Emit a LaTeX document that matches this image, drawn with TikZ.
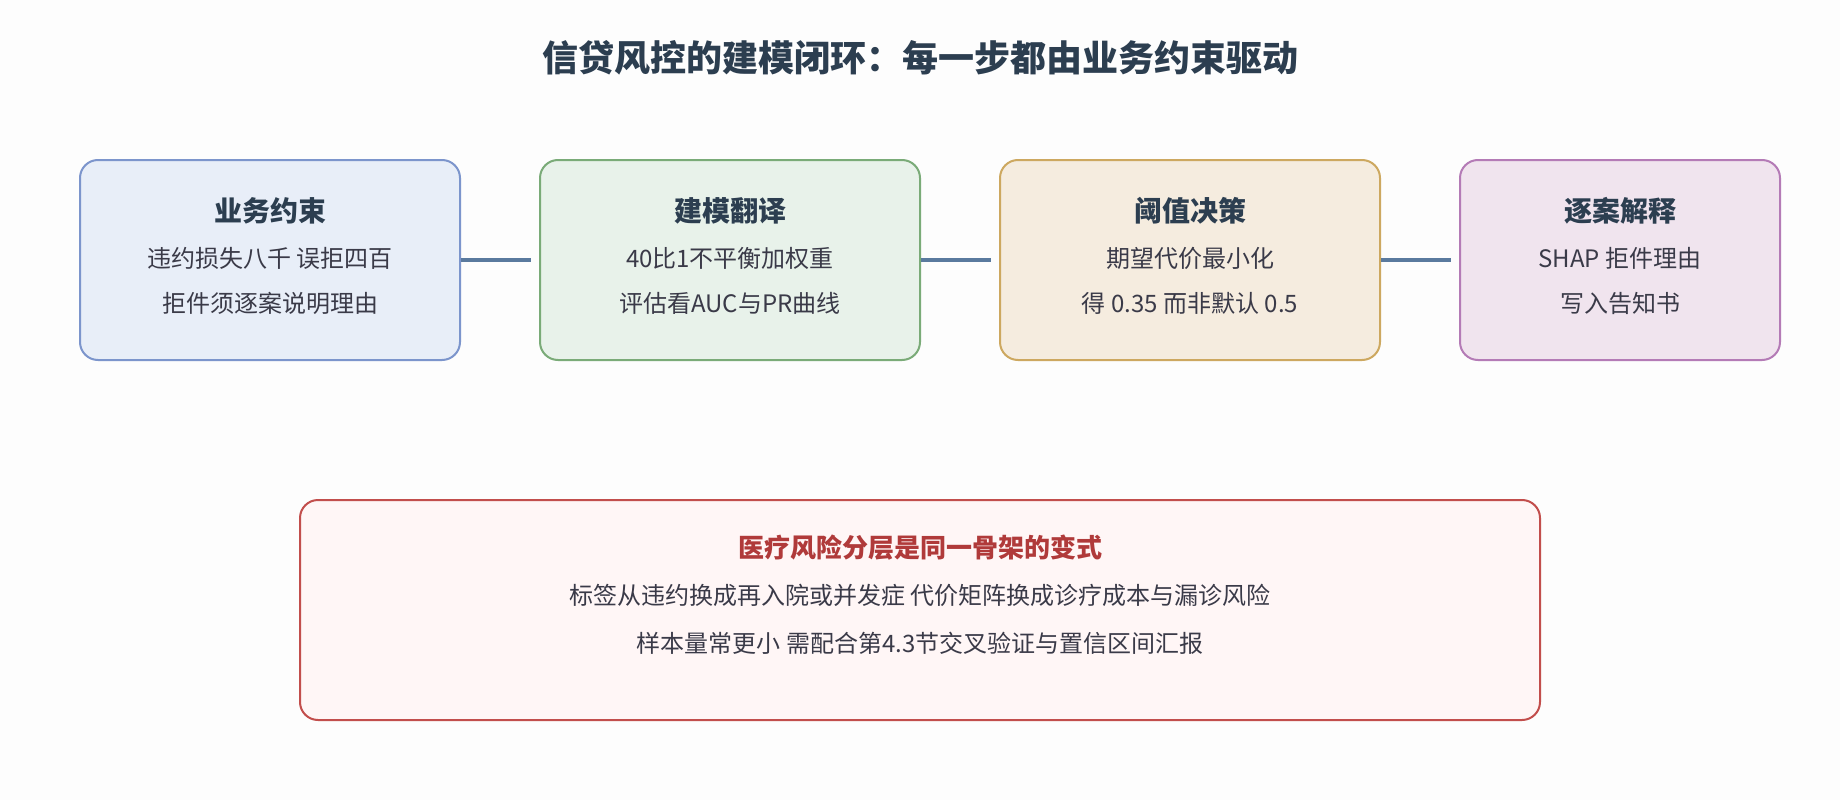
\documentclass[tikz,border=0pt]{standalone}
\usepackage{fontspec}
\setmainfont{Noto Sans CJK SC}
\definecolor{bg}{HTML}{FDFDFD}
\definecolor{titlec}{HTML}{2C3E50}
\definecolor{bodyc}{HTML}{3A3A48}
\definecolor{connc}{HTML}{5A7A9E}
\definecolor{f1}{HTML}{E8EEF8}\definecolor{s1}{HTML}{7C95CC}
\definecolor{f2}{HTML}{E8F2EA}\definecolor{s2}{HTML}{7AAB78}
\definecolor{f3}{HTML}{F5ECDF}\definecolor{s3}{HTML}{CDA860}
\definecolor{f4}{HTML}{F0E4EE}\definecolor{s4}{HTML}{B47BB6}
\definecolor{f5}{HTML}{FFF6F6}\definecolor{s5}{HTML}{C24E4C}
\definecolor{redt}{HTML}{B03A3A}
\tikzset{
  box/.style={draw, line width=2pt, rounded corners=18pt, minimum height=200pt, inner sep=0pt},
  hdr/.style={anchor=base, font=\fontsize{28}{34}\selectfont\bfseries, text=titlec, inner sep=0pt},
  txt/.style={anchor=base, font=\fontsize{24}{30}\selectfont, text=bodyc, inner sep=0pt},
  conn/.style={draw=connc, line width=4pt, shorten >=8pt}
}
\begin{document}
\begin{tikzpicture}[x=1pt,y=-1pt]
\useasboundingbox[fill=bg] (0,0) rectangle (1840,800);
\node[anchor=base, font=\fontsize{36}{42}\selectfont\bfseries, text=titlec, inner sep=0pt] (title) at (920,71) {信贷风控的建模闭环：每一步都由业务约束驱动};

\node[box, fill=f1, draw=s1, minimum width=380pt] (b1) at (270,260) {};
\node[box, fill=f2, draw=s2, minimum width=380pt] (b2) at (730,260) {};
\node[box, fill=f3, draw=s3, minimum width=380pt] (b3) at (1190,260) {};
\node[box, fill=f4, draw=s4, minimum width=320pt] (b4) at (1620,260) {};

\draw[conn] (b1.east) -- (b2.west);
\draw[conn] (b2.east) -- (b3.west);
\draw[conn] (b3.east) -- (b4.west);

\node[hdr] (h1) at (270,221) {业务约束};
\node[txt] (t1a) at (270,267) {违约损失八千 误拒四百};
\node[txt] (t1b) at (270,312) {拒件须逐案说明理由};

\node[hdr] (h2) at (730,221) {建模翻译};
\node[txt] (t2a) at (730,267) {40比1不平衡加权重};
\node[txt] (t2b) at (730,312) {评估看AUC与PR曲线};

\node[hdr] (h3) at (1190,221) {阈值决策};
\node[txt] (t3a) at (1190,267) {期望代价最小化};
\node[txt] (t3b) at (1190,312) {得 0.35 而非默认 0.5};

\node[hdr] (h4) at (1620,221) {逐案解释};
\node[txt] (t4a) at (1620,267) {SHAP 拒件理由};
\node[txt] (t4b) at (1620,312) {写入告知书};

\node[box, fill=f5, draw=s5, minimum width=1240pt, minimum height=220pt] (b5) at (920,610) {};
\node[anchor=base, font=\fontsize{26}{32}\selectfont\bfseries, text=redt, inner sep=0pt] (h5) at (920,557) {医疗风险分层是同一骨架的变式};
\node[txt] (t5a) at (920,604) {标签从违约换成再入院或并发症 代价矩阵换成诊疗成本与漏诊风险};
\node[txt] (t5b) at (920,652) {样本量常更小 需配合第4.3节交叉验证与置信区间汇报};
\end{tikzpicture}
\end{document}
